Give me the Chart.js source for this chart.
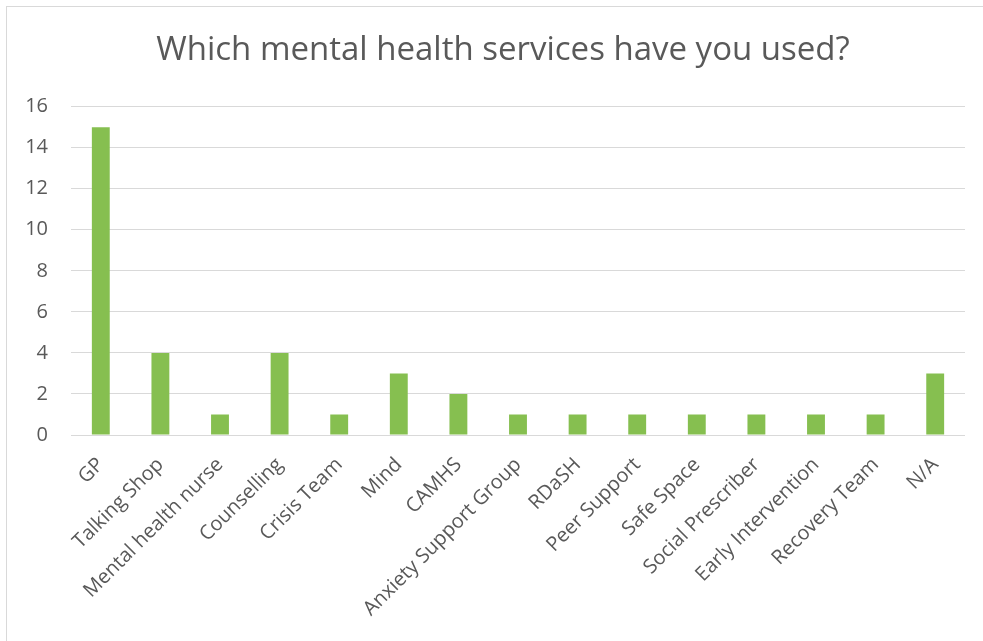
<!DOCTYPE html>
<html>
<head>
<meta charset="utf-8">
<script src="https://cdn.jsdelivr.net/npm/chart.js@4"></script>
<style>
    body { margin: 0; background: #fff; overflow: hidden; }
    #frame {
        position: absolute;
        left: 6px;
        top: 6px;
        width: 1100px;
        height: 800px;
        border: 1px solid #d9d9d9;
    }
    #servicesChart { position: absolute; left: 0; top: 0; }
</style>
</head>
<body>
<div id="frame"></div>
<canvas id="servicesChart" width="983" height="641"></canvas>
<script>
const services = ['GP', 'Talking Shop', 'Mental health nurse', 'Counselling', 'Crisis Team', 'Mind', 'CAMHS',
    'Anxiety Support Group', 'RDaSH', 'Peer Support', 'Safe Space', 'Social Prescriber',
    'Early Intervention', 'Recovery Team', 'N/A'];
const responses = [15, 4, 1, 4, 1, 3, 2, 1, 1, 1, 1, 1, 1, 1, 3];
const yTicks = [0, 2, 4, 6, 8, 10, 12, 14, 16];

const textGrey = '#595959';
const fontName = '"Open Sans", sans-serif';

// centre the title over the frame instead of the whole canvas
const titleShift = {
    id: 'titleShift',
    afterLayout(chart) {
        if (chart.titleBlock) {
            chart.titleBlock.left = 41;
        }
    }
};

const ctx = document.getElementById('servicesChart').getContext('2d');
new Chart(ctx, {
    type: 'bar',
    data: {
        labels: services,
        datasets: [{
            label: 'Responses',
            data: responses,
            backgroundColor: '#86bf50',
            categoryPercentage: 1,
            barPercentage: 0.3
        }]
    },
    options: {
        responsive: false,
        animation: false,
        layout: {
            padding: { left: 0, right: 18, top: 0, bottom: 0 }
        },
        plugins: {
            legend: { display: false },
            tooltip: { enabled: false },
            title: {
                display: true,
                text: 'Which mental health services have you used?',
                color: textGrey,
                font: { family: fontName, size: 33, weight: 'normal' },
                padding: { top: 31, bottom: 36 }
            }
        },
        scales: {
            x: {
                grid: { display: false },
                border: { display: false },
                ticks: {
                    color: textGrey,
                    font: { family: fontName, size: 20 },
                    minRotation: 45,
                    maxRotation: 45,
                    padding: 10
                },
                afterFit: function (scale) {
                    scale.height = 206;
                }
            },
            y: {
                min: 0,
                max: 16,
                afterBuildTicks: function (scale) {
                    scale.ticks = yTicks.map(v => ({ value: v }));
                },
                grid: { color: '#d9d9d9', lineWidth: 1, drawTicks: false },
                border: { display: false },
                ticks: {
                    color: textGrey,
                    font: { family: fontName, size: 20 },
                    padding: 23
                },
                afterFit: function (scale) {
                    scale.width = 71;
                }
            }
        }
    },
    plugins: [titleShift]
});
</script>
</body>
</html>
